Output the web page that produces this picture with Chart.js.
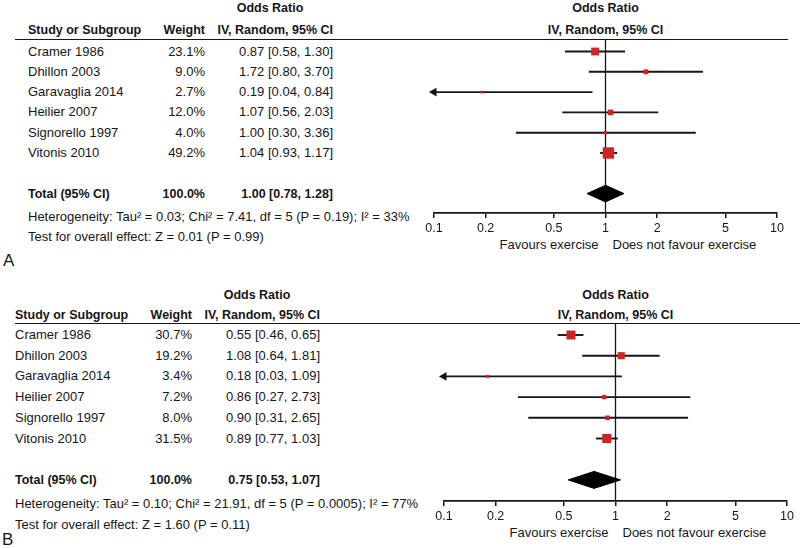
<!DOCTYPE html>
<html>
<head>
<meta charset="utf-8">
<script src="https://cdn.jsdelivr.net/npm/chart.js@4.4.1/dist/chart.umd.min.js"></script>
<style>
  body { margin: 0; background: #fff; }
  #wrap { position: relative; width: 800px; height: 548px; overflow: hidden;
          font-family: Arial, 'Liberation Sans', sans-serif; color: #161616; }
  .t { position: absolute; white-space: nowrap; font-size: 13px; line-height: 16px; }
  .b { font-weight: bold; font-size: 12.5px; }
  .hr { position: absolute; height: 0; border-top: 1.5px solid #161616; }
  canvas { position: absolute; }
</style>
</head>
<body>
<div id="wrap"></div>
<script>
// studies (same for both panels)
const studies = ['Cramer 1986', 'Dhillon 2003', 'Garavaglia 2014', 'Heilier 2007', 'Signorello 1997', 'Vitonis 2010'];

// panel A
const weightsA = [23.1, 9.0, 2.7, 12.0, 4.0, 49.2];
const orA = [0.87, 1.72, 0.19, 1.07, 1.00, 1.04];
const lowA = [0.58, 0.80, 0.04, 0.56, 0.30, 0.93];
const highA = [1.30, 3.70, 0.84, 2.03, 3.36, 1.17];
const totalA = [1.00, 0.78, 1.28]; // OR, lower, upper
const hetA = 'Heterogeneity: Tau² = 0.03; Chi² = 7.41, df = 5 (P = 0.19); I² = 33%';
const testA = 'Test for overall effect: Z = 0.01 (P = 0.99)';

// panel B
const weightsB = [30.7, 19.2, 3.4, 7.2, 8.0, 31.5];
const orB = [0.55, 1.08, 0.18, 0.86, 0.90, 0.89];
const lowB = [0.46, 0.64, 0.03, 0.27, 0.31, 0.77];
const highB = [0.65, 1.81, 1.09, 2.73, 2.65, 1.03];
const totalB = [0.75, 0.53, 1.07];
const hetB = 'Heterogeneity: Tau² = 0.10; Chi² = 21.91, df = 5 (P = 0.0005); I² = 77%';
const testB = 'Test for overall effect: Z = 1.60 (P = 0.11)';

// axis
const tickValues = [0.1, 0.2, 0.5, 1, 2, 5, 10];
const favLeft = 'Favours exercise';
const favRight = 'Does not favour exercise';

const panels = [
  { letter: 'A', w: weightsA, or: orA, lo: lowA, hi: highA, total: totalA, het: hetA, test: testA,
    top: 0, height: 270, line: 40, lineL: 15, lineR: 788, row0: 51.5, step: 20.3, axisY: 213,
    nameX: 28, weightR: 205, orR: 333, hdr1: 8, hdr2: 30, hetY: 217, testY: 237,
    letterX: 3, letterY: 261, plotL: 434, plotR: 777, favY: 245 },
  { letter: 'B', w: weightsB, or: orB, lo: lowB, hi: highB, total: totalB, het: hetB, test: testB,
    top: 270, height: 278, line: 324, lineL: 15, lineR: 800, row0: 335, step: 20.7, axisY: 501,
    nameX: 15, weightR: 192, orR: 320, hdr1: 295, hdr2: 315, hetY: 504, testY: 525,
    letterX: 2, letterY: 540, plotL: 444, plotR: 787, favY: 533 }
];

const wrap = document.getElementById('wrap');

function text(str, x, y, align, cls, size) {
  const d = document.createElement('div');
  d.className = 't' + (cls ? ' ' + cls : '');
  d.textContent = str;
  d.style.top = (y - 8) + 'px';
  if (size) d.style.fontSize = size + 'px';
  if (align === 'right') d.style.right = (800 - x) + 'px';
  else d.style.left = x + 'px';
  if (align === 'center') d.style.transform = 'translateX(-50%)';
  wrap.appendChild(d);
}

const fmtCI = (o, l, h) => `${o.toFixed(2)} [${l.toFixed(2)}, ${h.toFixed(2)}]`;

panels.forEach(p => {
  const rowY = i => p.row0 + p.step * i;
  const oneX = p.plotL + (p.plotR - p.plotL) / 2;

  // table header
  text('Odds Ratio', p.orR - 63, p.hdr1, 'center', 'b');
  text('Study or Subgroup', p.nameX, p.hdr2, 'left', 'b');
  text('Weight', p.weightR, p.hdr2, 'right', 'b');
  text('IV, Random, 95% CI', p.orR, p.hdr2, 'right', 'b');
  text('Odds Ratio', oneX, p.hdr1, 'center', 'b');
  text('IV, Random, 95% CI', oneX, p.hdr2, 'center', 'b');

  const hr = document.createElement('div');
  hr.className = 'hr';
  hr.style.left = p.lineL + 'px';
  hr.style.width = (p.lineR - p.lineL) + 'px';
  hr.style.top = (p.line - 1) + 'px';
  wrap.appendChild(hr);

  studies.forEach((s, i) => {
    text(s, p.nameX, rowY(i), 'left');
    text(p.w[i].toFixed(1) + '%', p.weightR, rowY(i), 'right');
    text(fmtCI(p.or[i], p.lo[i], p.hi[i]), p.orR, rowY(i), 'right');
  });
  text('Total (95% CI)', p.nameX, rowY(7), 'left', 'b');
  text('100.0%', p.weightR, rowY(7), 'right', 'b');
  text(fmtCI(p.total[0], p.total[1], p.total[2]), p.orR, rowY(7), 'right', 'b');
  text(p.het, p.nameX, p.hetY, 'left');
  text(p.test, p.nameX, p.testY, 'left');
  text(p.letter, p.letterX, p.letterY, 'left', null, 17);

  text(favLeft, oneX - 7, p.favY, 'right');
  text(favRight, oneX + 7, p.favY, 'left');

  // forest plot
  const cv = document.createElement('canvas');
  const cLeft = 420;
  cv.width = 380; cv.height = p.height;
  cv.style.left = cLeft + 'px'; cv.style.top = p.top + 'px';
  wrap.appendChild(cv);

  const yMin = -(p.row0 - p.line) / p.step;
  const yMax = yMin + (p.axisY - p.line) / p.step;
  const axisH = p.top + p.height - p.axisY;

  const datasets = [];
  datasets.push({
    data: [{ x: 1, y: yMin }, { x: 1, y: yMax }],
    showLine: true, borderColor: '#161616', borderWidth: 1.3, pointRadius: 0, order: 10
  });
  studies.forEach((s, i) => {
    datasets.push({
      data: [{ x: Math.max(p.lo[i], 0.1), y: i }, { x: Math.min(p.hi[i], 10), y: i }],
      showLine: true, borderColor: '#161616', borderWidth: 1.9, pointRadius: 0, order: 5
    });
  });
  datasets.push({
    data: p.or.map((v, i) => ({ x: v, y: i })),
    pointStyle: 'rect', pointRadius: p.w.map(w => 1.15 * Math.sqrt(w)),
    backgroundColor: '#cf2327', borderWidth: 0, order: 1
  });
  const cut = p.lo.map((v, i) => v < 0.1 ? { x: 0.1, y: i } : null).filter(Boolean);
  datasets.push({
    data: cut, pointStyle: 'triangle', pointRotation: -90, pointRadius: 5,
    backgroundColor: '#111', borderColor: '#111', borderWidth: 0, clip: false, order: 1
  });
  const h = 0.41;
  const [to, tl, th] = p.total;
  datasets.push({
    data: [{ x: tl, y: 7 }, { x: to, y: 7 - h }, { x: th, y: 7 }, { x: to, y: 7 + h }, { x: tl, y: 7 }],
    showLine: true, fill: 'shape', backgroundColor: '#000', borderColor: '#000', borderWidth: 1,
    pointRadius: 0, order: 2
  });

  new Chart(cv.getContext('2d'), {
    type: 'scatter',
    data: { datasets },
    options: {
      responsive: false,
      animation: false,
      events: [],
      layout: { padding: { left: p.plotL - cLeft, right: 800 - p.plotR, top: p.line - p.top, bottom: 0 } },
      plugins: { legend: { display: false }, tooltip: { enabled: false } },
      scales: {
        x: {
          type: 'logarithmic', min: 0.1, max: 10, position: 'bottom',
          afterBuildTicks: sc => { sc.ticks = tickValues.map(v => ({ value: v })); },
          afterFit: sc => { sc.height = axisH; },
          ticks: {
            autoSkip: false, maxRotation: 0, padding: 3, color: '#161616',
            font: { family: 'Arial, "Liberation Sans", sans-serif', size: 12.5 },
            callback: v => String(v)
          },
          grid: { drawOnChartArea: false, drawTicks: true, tickLength: 5, color: '#161616', lineWidth: 1.5 },
          border: { display: true, color: '#161616', width: 1.8 }
        },
        y: { type: 'linear', display: false, min: yMin, max: yMax, reverse: true }
      }
    }
  });
});
</script>
</body>
</html>
